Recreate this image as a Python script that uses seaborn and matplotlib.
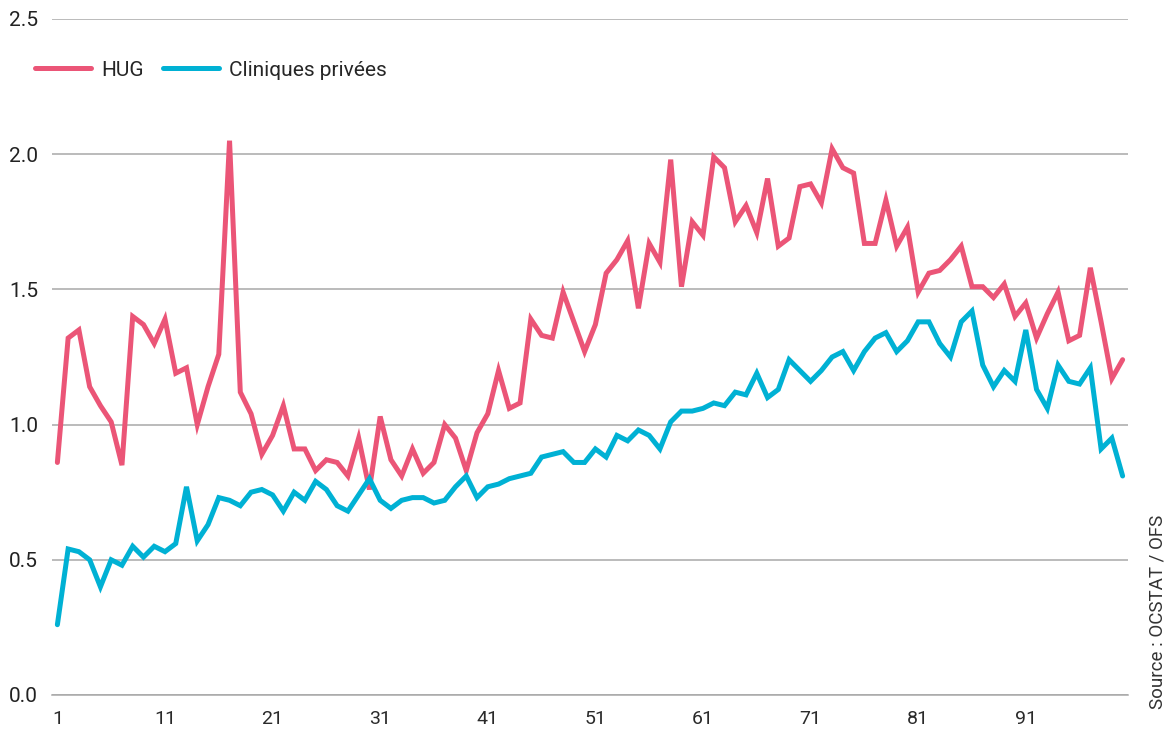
import matplotlib
matplotlib.use("Agg")
import matplotlib.pyplot as plt
import numpy as np
import pandas as pd
import seaborn as sns

# series values, one per period (1..100)
hug = [0.86, 1.32, 1.35, 1.14, 1.07, 1.01, 0.85, 1.40, 1.37, 1.30,
       1.39, 1.19, 1.21, 1.00, 1.14, 1.26, 2.05, 1.12, 1.04, 0.89,
       0.96, 1.07, 0.91, 0.91, 0.83, 0.87, 0.86, 0.81, 0.95, 0.76,
       1.03, 0.87, 0.81, 0.91, 0.82, 0.86, 1.00, 0.95, 0.83, 0.97,
       1.04, 1.20, 1.06, 1.08, 1.39, 1.33, 1.32, 1.49, 1.38, 1.27,
       1.37, 1.56, 1.61, 1.68, 1.43, 1.67, 1.60, 1.98, 1.51, 1.75,
       1.70, 1.99, 1.95, 1.75, 1.81, 1.71, 1.91, 1.66, 1.69, 1.88,
       1.89, 1.82, 2.02, 1.95, 1.93, 1.67, 1.67, 1.83, 1.66, 1.73,
       1.49, 1.56, 1.57, 1.61, 1.66, 1.51, 1.51, 1.47, 1.52, 1.40,
       1.45, 1.32, 1.41, 1.49, 1.31, 1.33, 1.58, 1.38, 1.17, 1.24]

cliniques = [0.26, 0.54, 0.53, 0.50, 0.40, 0.50, 0.48, 0.55, 0.51, 0.55,
             0.53, 0.56, 0.77, 0.57, 0.63, 0.73, 0.72, 0.70, 0.75, 0.76,
             0.74, 0.68, 0.75, 0.72, 0.79, 0.76, 0.70, 0.68, 0.74, 0.80,
             0.72, 0.69, 0.72, 0.73, 0.73, 0.71, 0.72, 0.77, 0.81, 0.73,
             0.77, 0.78, 0.80, 0.81, 0.82, 0.88, 0.89, 0.90, 0.86, 0.86,
             0.91, 0.88, 0.96, 0.94, 0.98, 0.96, 0.91, 1.01, 1.05, 1.05,
             1.06, 1.08, 1.07, 1.12, 1.11, 1.19, 1.10, 1.13, 1.24, 1.20,
             1.16, 1.20, 1.25, 1.27, 1.20, 1.27, 1.32, 1.34, 1.27, 1.31,
             1.38, 1.38, 1.30, 1.25, 1.38, 1.42, 1.22, 1.14, 1.20, 1.16,
             1.35, 1.13, 1.06, 1.22, 1.16, 1.15, 1.21, 0.91, 0.95, 0.81]

periods = list(range(1, len(hug) + 1))
series_names = ["HUG", "Cliniques privées"]
xtick_labels = [1, 11, 21, 31, 41, 51, 61, 71, 81, 91]
ytick_values = [0.0, 0.5, 1.0, 1.5, 2.0, 2.5]

df = pd.DataFrame({
    "periode": periods * 2,
    "valeur": hug + cliniques,
    "serie": [series_names[0]] * len(hug) + [series_names[1]] * len(cliniques),
})

sns.set_style("white")
plt.rcParams["font.family"] = ["Roboto", "DejaVu Sans"]

fig = plt.figure(figsize=(11.76, 7.29), dpi=100)
ax = fig.add_axes([52 / 1176, 1 - 695 / 729, (1128 - 52) / 1176, (695 - 19) / 729])

palette = {"HUG": "#eb5577", "Cliniques privées": "#00b1d4"}
sns.lineplot(data=df, x="periode", y="valeur", hue="serie", palette=palette,
             linewidth=3.6, ax=ax, legend=False, zorder=3)
for line in ax.lines:
    line.set_solid_joinstyle("miter")
    line.set_solid_capstyle("round")

ax.set_xlim(0.5, len(hug) + 0.5)
ax.set_ylim(0, 2.5)
ax.set_xlabel("")
ax.set_ylabel("")

ax.set_yticks(ytick_values)
ax.set_yticklabels([f"{v:.1f}" for v in ytick_values], fontsize=15, color="#222222")
ax.yaxis.grid(True, color="#a8a8a8", linewidth=1.1)
ax.set_axisbelow(True)
ax.tick_params(axis="y", length=0, pad=10)

ax.set_xticks(xtick_labels)
ax.set_xticklabels([str(v) for v in xtick_labels], fontsize=14, color="#2a2a2a")
ax.set_xticks(np.arange(0.5, len(hug) + 1, 1.0), minor=True)
ax.tick_params(axis="x", which="major", length=0, pad=11)
ax.tick_params(axis="x", which="minor", length=6, width=0.8, color="#a8a8a8")

for side in ("top", "right", "left"):
    ax.spines[side].set_visible(False)
ax.spines["bottom"].set_color("#a8a8a8")
ax.spines["bottom"].set_linewidth(1.1)

handles = [plt.Line2D([], [], color=palette[n], linewidth=3.6) for n in series_names]
fig.legend(handles, series_names, loc="center left",
           bbox_to_anchor=(16 / 1176, 1 - 70 / 729), ncol=2, frameon=False,
           fontsize=15, handlelength=2.7, handletextpad=0.5, columnspacing=0.9)

fig.text(0.984, 0.027, "Source : OCSTAT / OFS", rotation=90, ha="center",
         va="bottom", fontsize=13.5, color="#333333")

fig.savefig("out.png", dpi=100)
